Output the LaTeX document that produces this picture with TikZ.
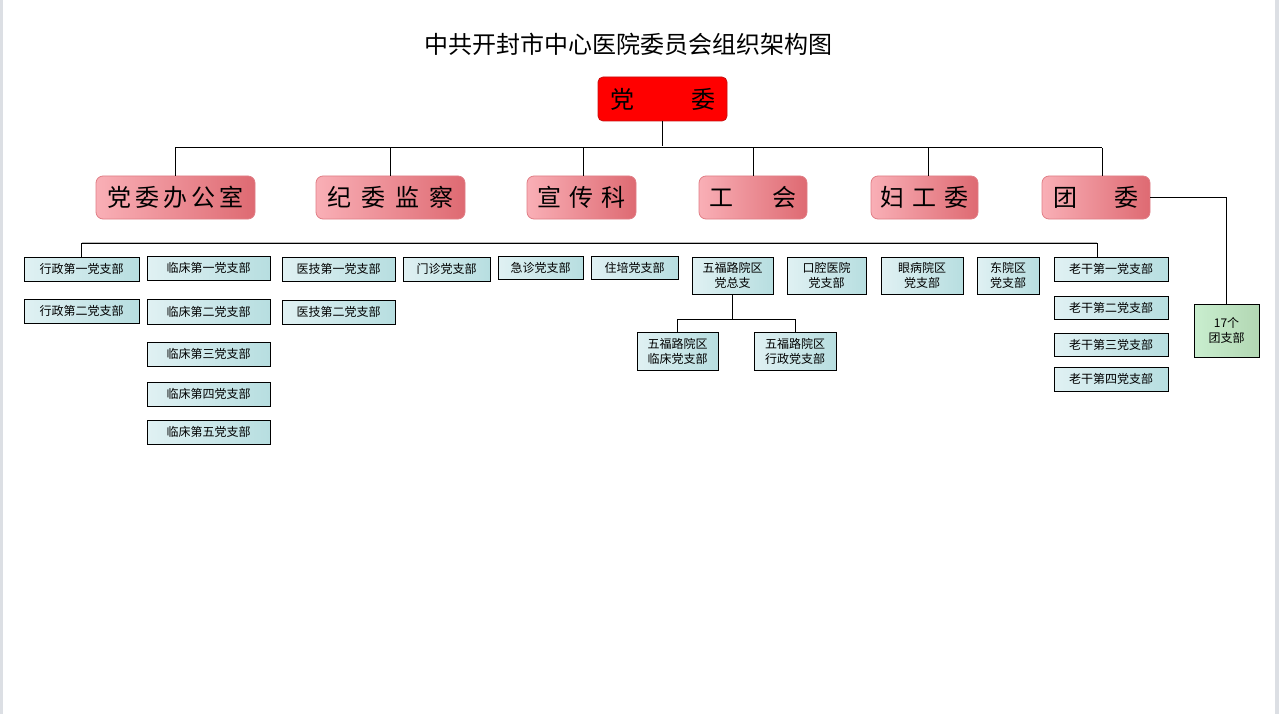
\documentclass[tikz,border=0pt]{standalone}
\usepackage{fontspec}
\setmainfont{Noto Sans CJK SC}
\newcommand\gp[1]{\hspace{#1pt}}
\definecolor{pinkL}{HTML}{F9AFB6}
\definecolor{pinkR}{HTML}{DE6A72}
\definecolor{pinkB}{HTML}{E07E86}
\definecolor{topRed}{HTML}{FF0000}
\definecolor{topB}{HTML}{C81010}
\definecolor{cyanL}{HTML}{E0F1F3}
\definecolor{cyanR}{HTML}{B7DEE0}
\definecolor{grnL}{HTML}{C9EECF}
\definecolor{grnR}{HTML}{B2D7B3}
\definecolor{edge}{HTML}{DCDFE4}
\tikzset{
  topbox/.style={fill=topRed, draw=topB, line width=0.8pt, rounded corners=5pt, inner sep=0pt, font=\fontsize{24}{28}\selectfont},
  midbox/.style={left color=pinkL, right color=pinkR, draw=pinkB, line width=0.8pt, rounded corners=7pt, inner sep=0pt, font=\fontsize{24}{28}\selectfont},
  subbox/.style={left color=cyanL, right color=cyanR, draw=black, line width=1pt, inner sep=0pt, align=center, font=\fontsize{12}{15}\selectfont},
  grnbox/.style={left color=grnL, right color=grnR, draw=black, line width=1pt, inner sep=0pt, align=center, font=\fontsize{12}{15}\selectfont},
  conn/.style={draw=black, line width=1pt}
}
\begin{document}
\begin{tikzpicture}[x=1pt,y=-1pt]
\useasboundingbox (0,0) rectangle (1279,714);
\fill[edge] (0,0) rectangle (2.5,714);
\fill[edge] (1275,0) rectangle (1279,714);

\node[inner sep=0pt, font=\fontsize{24}{28}\selectfont] (title) at (628.5,44) {中共开封市中心医院委员会组织架构图};

% top
\node[topbox, minimum width=129pt, minimum height=44pt] (top) at (662.5,99) {党\gp{57}委};

% level 2
\node[midbox, minimum width=159pt, minimum height=43pt] (o1) at (175.5,197.5) {党\gp{4}委\gp{4}办\gp{4}公\gp{4}室};
\node[midbox, minimum width=149pt, minimum height=43pt] (o2) at (390.5,197.5) {纪\gp{10}委\gp{10}监\gp{10}察};
\node[midbox, minimum width=109pt, minimum height=43pt] (o3) at (581.5,197.5) {宣\gp{8}传\gp{8}科};
\node[midbox, minimum width=108pt, minimum height=43pt] (o4) at (753,197.5) {工\gp{39}会};
\node[midbox, minimum width=107pt, minimum height=43pt] (o5) at (924.5,197.5) {妇\gp{8}工\gp{8}委};
\node[midbox, minimum width=108pt, minimum height=43pt] (o6) at (1096,197.5) {团\gp{37}委};

\coordinate (bus) at (0,148);
\draw[conn] (top.south) -- ([yshift=2pt]top.south |- bus);
\coordinate (d1in) at (175,176);
\coordinate (d2in) at (390,176);
\coordinate (d3in) at (583,176);
\coordinate (d4in) at (753,176);
\coordinate (d5in) at (928,176);
\coordinate (d6in) at (1102,176);
\draw[conn] (d1in |- bus) -- (d6in |- bus);
\foreach \n in {d1in,d2in,d3in,d4in,d5in,d6in}{\draw[conn] (\n) -- (\n |- bus);}

% level 3
\node[subbox, minimum width=115pt, minimum height=24pt] (a1) at (81.5,269) {行政第一党支部};
\node[subbox, minimum width=115pt, minimum height=24pt] (a2) at (81.5,311) {行政第二党支部};
\node[subbox, minimum width=123pt, minimum height=24pt] (b1) at (208.5,268) {临床第一党支部};
\node[subbox, minimum width=123pt, minimum height=25pt] (b2) at (208.5,312) {临床第二党支部};
\node[subbox, minimum width=123pt, minimum height=24pt] (b3) at (208.5,354) {临床第三党支部};
\node[subbox, minimum width=123pt, minimum height=24pt] (b4) at (208.5,394) {临床第四党支部};
\node[subbox, minimum width=123pt, minimum height=24pt] (b5) at (208.5,432) {临床第五党支部};
\node[subbox, minimum width=113pt, minimum height=24pt] (c1) at (338.5,269) {医技第一党支部};
\node[subbox, minimum width=113pt, minimum height=24pt] (c2) at (338.5,312) {医技第二党支部};
\node[subbox, minimum width=87pt, minimum height=24pt] (d1) at (446.5,269) {门诊党支部};
\node[subbox, minimum width=85pt, minimum height=23pt] (e1) at (540.5,267.5) {急诊党支部};
\node[subbox, minimum width=87pt, minimum height=23pt] (f1) at (634.5,267.5) {住培党支部};
\node[subbox, minimum width=81pt, minimum height=37pt] (w) at (732.5,275.5) {五福路院区\\党总支};
\node[subbox, minimum width=79pt, minimum height=37pt] (k1) at (826.5,275.5) {口腔医院\\党支部};
\node[subbox, minimum width=82pt, minimum height=37pt] (y1) at (922,275.5) {眼病院区\\党支部};
\node[subbox, minimum width=62pt, minimum height=37pt] (h1) at (1008,275.5) {东院区\\党支部};
\node[subbox, minimum width=81pt, minimum height=38pt] (w1) at (677.5,351) {五福路院区\\临床党支部};
\node[subbox, minimum width=82pt, minimum height=38pt] (w2) at (795,351) {五福路院区\\行政党支部};
\node[subbox, minimum width=114pt, minimum height=24pt] (g1) at (1111,269) {老干第一党支部};
\node[subbox, minimum width=114pt, minimum height=23pt] (g2) at (1111,307.5) {老干第二党支部};
\node[subbox, minimum width=114pt, minimum height=23pt] (g3) at (1111,344.5) {老干第三党支部};
\node[subbox, minimum width=114pt, minimum height=24pt] (g4) at (1111,379) {老干第四党支部};
\node[grnbox, minimum width=65pt, minimum height=53pt] (t17) at (1226.5,330.5) {17个\\团支部};

% level-3 bus
\coordinate (bus3) at (0,243.5);
\coordinate (g1in) at (1097,257);
\draw[gray!55, line width=1pt] ([yshift=1.5pt]a1.north |- bus3) -- ([yshift=1.5pt]g1in |- bus3);
\draw[conn] (a1.north) -- (a1.north |- bus3) -- (g1in |- bus3) -- (g1in);

% Wufu road sub-branches
\coordinate (wbus) at (0,319);
\draw[conn] (w.south) -- (w.south |- wbus);
\draw[conn] (w1.north) -- (w1.north |- wbus) -- (w2.north |- wbus) -- (w2.north);

% youth league
\draw[conn] (o6.east) -| (t17.north);
\end{tikzpicture}
\end{document}
